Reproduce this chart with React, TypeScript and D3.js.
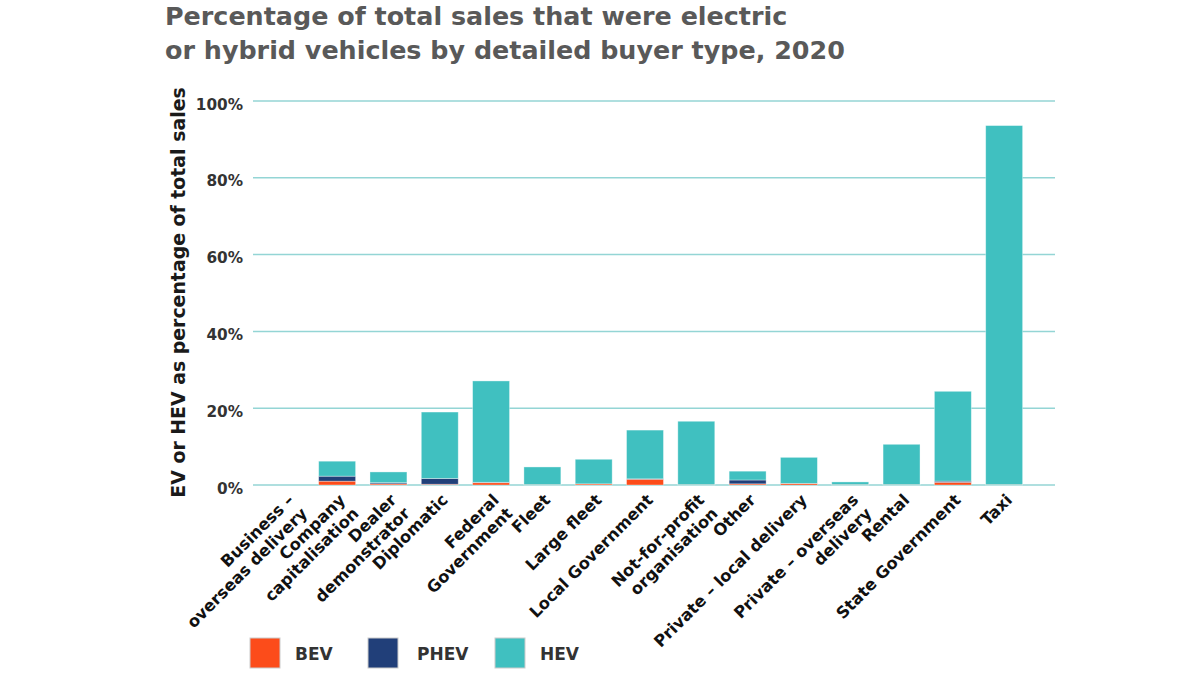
import { useEffect, useRef } from 'react';
import * as d3 from 'd3';

// buyer types (line breaks as in the source chart)
const categories = [
  'Business –\noverseas delivery',
  'Company\ncapitalisation',
  'Dealer\ndemonstrator',
  'Diplomatic',
  'Federal\nGovernment',
  'Fleet',
  'Large fleet',
  'Local Government',
  'Not-for-profit\norganisation',
  'Other',
  'Private – local delivery',
  'Private – overseas\ndelivery',
  'Rental',
  'State Government',
  'Taxi',
];

// % of total sales
const bevValues = [0, 1.0, 0.3, 0.2, 0.6, 0.1, 0.3, 1.5, 0.1, 0.3, 0.4, 0.1, 0.1, 0.7, 0.1];
const phevValues = [0, 1.3, 0.3, 1.5, 0.1, 0, 0, 0.1, 0, 1.0, 0, 0, 0, 0.3, 0];
const hevValues = [0, 3.9, 2.8, 17.3, 26.4, 4.6, 6.4, 12.7, 16.5, 2.3, 6.8, 0.7, 10.5, 23.4, 93.5];

const seriesKeys = ['BEV', 'PHEV', 'HEV'];
const seriesColors = ['#fc4c1a', '#213f79', '#40c0c0'];
const yTicks = [0, 20, 40, 60, 80, 100];

const titleLines = [
  'Percentage of total sales that were electric',
  'or hybrid vehicles by detailed buyer type, 2020',
];
const yAxisTitle = 'EV or HEV as percentage of total sales';

const FONT = '"DejaVu Sans", sans-serif';

export default function App() {
  const svgRef = useRef<SVGSVGElement>(null);

  useEffect(() => {
    document.body.style.margin = '0';
    if (!svgRef.current) return;

    const width = 1200;
    const height = 674;
    const svg = d3.select(svgRef.current);
    svg.selectAll('*').remove();
    svg.attr('width', width).attr('height', height);

    const plotLeft = 253;
    const plotRight = 1037;
    const gridRight = 1055;
    const plotTop = 101;
    const plotBottom = 485;

    const x = d3.scaleBand<string>()
      .domain(categories)
      .range([plotLeft, plotRight])
      .padding(0.28);

    const y = d3.scaleLinear().domain([0, 100]).range([plotBottom, plotTop]);

    const rows = categories.map((c, i) => ({
      category: c,
      BEV: bevValues[i],
      PHEV: phevValues[i],
      HEV: hevValues[i],
    }));

    const stacked = d3.stack<typeof rows[0]>().keys(seriesKeys)(rows as any);

    // Title
    svg.append('g')
      .selectAll('text')
      .data(titleLines)
      .enter().append('text')
      .attr('x', 165)
      .attr('y', (d, i) => 25 + i * 33.5)
      .style('font-family', FONT)
      .style('font-weight', 'bold')
      .style('font-size', '25.4px')
      .style('fill', '#595959')
      .text(d => d);

    // Gridlines
    svg.append('g')
      .selectAll('line')
      .data(yTicks)
      .enter().append('line')
      .attr('x1', plotLeft)
      .attr('x2', gridRight)
      .attr('y1', d => y(d))
      .attr('y2', d => y(d))
      .attr('stroke', '#94d5d5')
      .attr('stroke-width', 1.5);

    // Y tick labels
    svg.append('g')
      .selectAll('text')
      .data(yTicks)
      .enter().append('text')
      .attr('x', 243)
      .attr('y', d => y(d) + 8.5)
      .attr('text-anchor', 'end')
      .style('font-family', FONT)
      .style('font-weight', 'bold')
      .style('font-size', '15.3px')
      .style('fill', '#333333')
      .text(d => `${d}%`);

    // Y axis title
    svg.append('text')
      .attr('transform', `translate(185, 292.5) rotate(-90)`)
      .attr('text-anchor', 'middle')
      .style('font-family', FONT)
      .style('font-weight', 'bold')
      .style('font-size', '18.9px')
      .style('fill', '#1a1a1a')
      .text(yAxisTitle);

    // Bars
    svg.append('g')
      .selectAll('g')
      .data(stacked)
      .enter().append('g')
      .attr('fill', (d, i) => seriesColors[i])
      .selectAll('rect')
      .data(d => d)
      .enter().append('rect')
      .attr('x', d => x((d.data as any).category) as number)
      .attr('width', x.bandwidth())
      .attr('y', d => y(d[1]))
      .attr('height', d => Math.max(0, y(d[0]) - y(d[1])))
      .attr('stroke', 'rgba(255,255,255,0.45)')
      .attr('stroke-width', d => (d[1] - d[0] > 0 ? 0.8 : 0));

    // X labels, rotated
    const labels = svg.append('g')
      .selectAll('text')
      .data(categories)
      .enter().append('text')
      .attr('transform', d => `translate(${(x(d) as number) + x.bandwidth() / 2 + 9}, 501) rotate(-45)`)
      .attr('text-anchor', 'end')
      .style('font-family', FONT)
      .style('font-weight', 'bold')
      .style('font-size', '16.3px')
      .style('fill', '#111111');

    labels.selectAll('tspan')
      .data(d => d.split('\n'))
      .enter().append('tspan')
      .attr('x', 0)
      .attr('dy', (d, i) => (i === 0 ? 0 : 19))
      .text(d => d);

    // Legend
    const legendX = [250, 368, 495];
    const legend = svg.append('g')
      .selectAll('g')
      .data(seriesKeys)
      .enter().append('g')
      .attr('transform', (d, i) => `translate(${legendX[i]}, 638)`);

    legend.append('rect')
      .attr('width', 30)
      .attr('height', 30)
      .attr('fill', (d, i) => seriesColors[i])
      .attr('stroke', '#cccccc')
      .attr('stroke-width', 1);

    legend.append('text')
      .attr('x', (d, i) => (i === 1 ? 49 : 45))
      .attr('y', 22)
      .style('font-family', FONT)
      .style('font-weight', 'bold')
      .style('font-size', '17px')
      .style('fill', '#333333')
      .text(d => d);
  }, []);

  return (
    <div style={{ width: 1200, height: 674, background: '#ffffff' }}>
      <svg ref={svgRef} style={{ display: 'block' }}></svg>
    </div>
  );
}
